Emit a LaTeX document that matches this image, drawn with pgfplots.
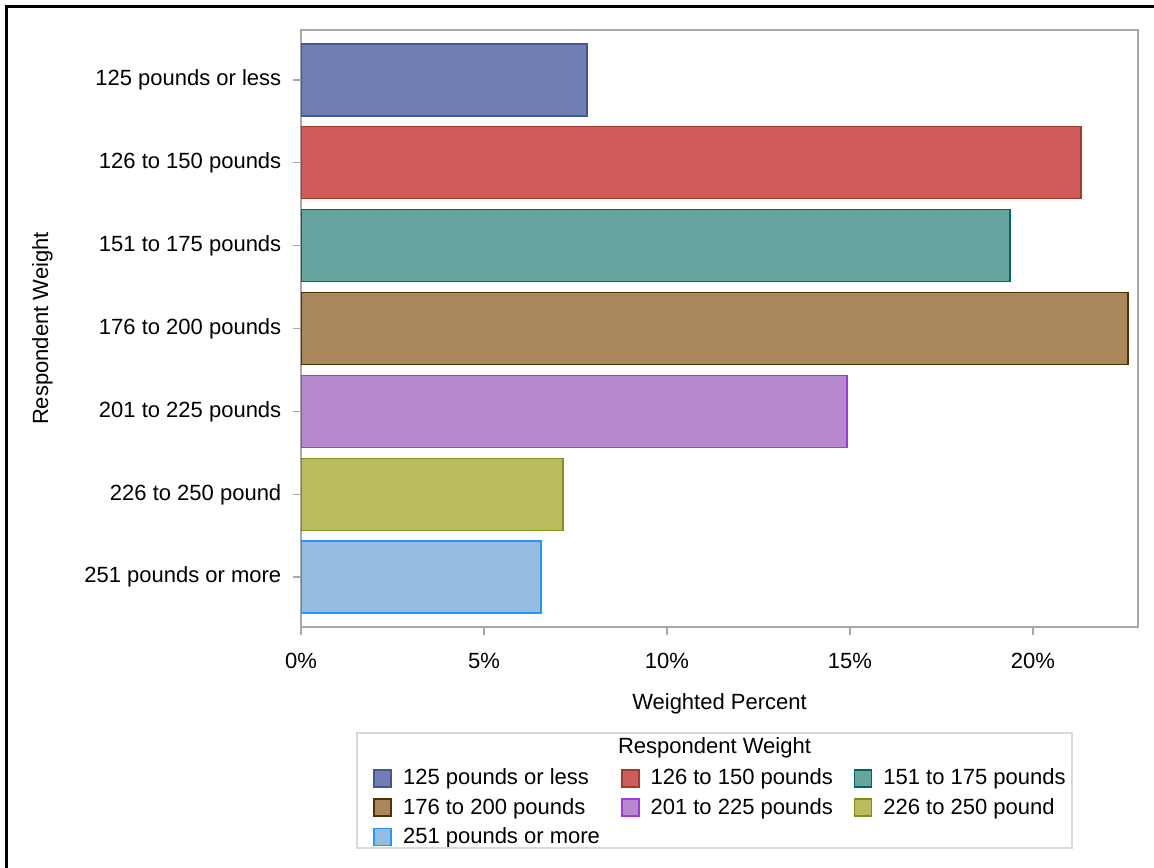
\documentclass[border=0pt]{standalone}
\usepackage{fontspec}
\setmainfont{Liberation Sans}
\usepackage{pgfplots}
\pgfplotsset{compat=1.18}
\definecolor{c1f}{HTML}{6F7EB3}\definecolor{c1d}{HTML}{445694}
\definecolor{c2f}{HTML}{D05B5B}\definecolor{c2d}{HTML}{A23A2E}
\definecolor{c3f}{HTML}{66A5A0}\definecolor{c3d}{HTML}{01665E}
\definecolor{c4f}{HTML}{A9865B}\definecolor{c4d}{HTML}{543005}
\definecolor{c5f}{HTML}{B689CD}\definecolor{c5d}{HTML}{9D3CDB}
\definecolor{c6f}{HTML}{BABC5C}\definecolor{c6d}{HTML}{7F8E1F}
\definecolor{c7f}{HTML}{94BDE1}\definecolor{c7d}{HTML}{2597FA}
\definecolor{axgray}{HTML}{A8A8A8}
\begin{document}
\fontsize{11}{13}\selectfont
\begin{tikzpicture}
\useasboundingbox (0,0) rectangle (577pt,433.5pt);
\begin{scope}
\clip (0,0) rectangle (577pt,433.5pt);
\draw[line width=1.5pt] (3.3pt,-10pt) -- (3.3pt,430pt) -- (600pt,430pt);
\end{scope}
\begin{axis}[
  at={(150.5pt,120pt)}, anchor=south west,
  scale only axis, width=418.5pt, height=298.5pt,
  xmin=0, xmax=22.87,
  ymin=-0.6, ymax=6.6, y dir=reverse,
  xbar, bar width=36pt, bar shift=0pt,
  xtick={0,5,10,15,20},
  xticklabels={0\%,5\%,10\%,15\%,20\%},
  ytick={0,1,2,3,4,5,6},
  yticklabels={125 pounds or less,126 to 150 pounds,151 to 175 pounds,176 to 200 pounds,201 to 225 pounds,226 to 250 pound,251 pounds or more},
  tick align=outside, major tick length=4pt,
  xtick pos=bottom, ytick pos=left,
  axis line style={axgray, line width=0.8pt},
  every tick/.style={axgray, line width=0.8pt},
  tick label style={font=\fontsize{11}{13}\selectfont, /pgf/number format/assume math mode=true},
  xticklabel style={yshift=-5pt},
  yticklabel style={xshift=-2pt},
  xlabel={Weighted Percent},
  ylabel={Respondent Weight},
  label style={font=\fontsize{11}{13}\selectfont},
  xlabel style={at={(axis description cs:0.5,-0.129)}, anchor=center},
  ylabel style={at={(axis description cs:-0.309,0.5)}, anchor=center, rotate=0},
  legend columns=3,
  legend cell align=left,
  legend style={draw=none, fill=none, at={(axis description cs:0.0789,-0.2235)}, anchor=north west,
    font=\fontsize{11}{13}\selectfont, row sep=1pt,
    /tikz/every even column/.append style={column sep=8.5pt}},
  legend image code/.code={\draw[#1, line width=0.8pt] (0pt,-4.25pt) rectangle (8.5pt,4.25pt); \path (12pt,0pt);},
]
\addplot[fill=c1f, draw=c1d, line width=0.8pt] coordinates {(7.81,0)};
\addplot[fill=c2f, draw=c2d, line width=0.8pt] coordinates {(21.31,1)};
\addplot[fill=c3f, draw=c3d, line width=0.8pt] coordinates {(19.37,2)};
\addplot[fill=c4f, draw=c4d, line width=0.8pt] coordinates {(22.60,3)};
\addplot[fill=c5f, draw=c5d, line width=0.8pt] coordinates {(14.92,4)};
\addplot[fill=c6f, draw=c6d, line width=0.8pt] coordinates {(7.16,5)};
\addplot[fill=c7f, draw=c7d, line width=0.8pt] coordinates {(6.56,6)};
\legend{125 pounds or less,126 to 150 pounds,151 to 175 pounds,176 to 200 pounds,201 to 225 pounds,226 to 250 pound,251 pounds or more}
\end{axis}
\draw[gray!30, line width=0.8pt] (178.5pt,9.5pt) rectangle (536pt,67pt);
\node[font=\fontsize{11}{13}\selectfont] at (357.25pt,59.5pt) {Respondent Weight};
\end{tikzpicture}
\end{document}
